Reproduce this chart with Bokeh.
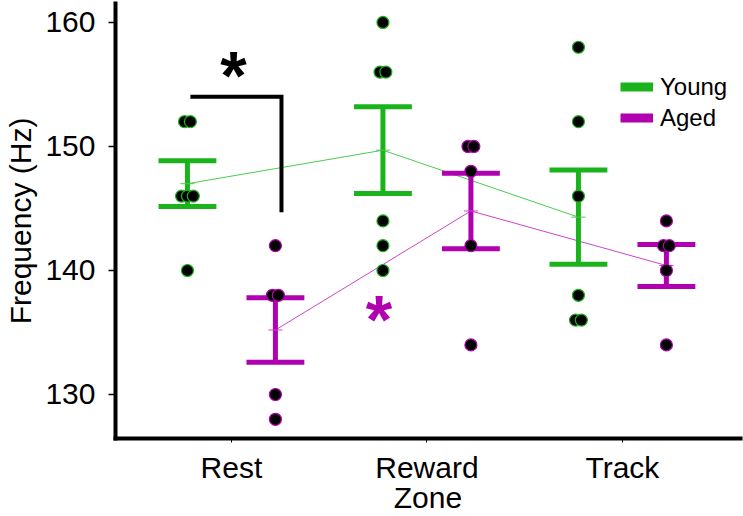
import numpy as np
from bokeh.plotting import figure
from bokeh.models import Range1d, FixedTicker, Legend, LegendItem, Label
from bokeh.embed import file_html
from bokeh.resources import INLINE

# ---- data ----
zones = ["Rest", "Reward", "Track"]
young_values = [
    [152, 152, 146, 146, 146, 140],
    [160, 156, 156, 144, 142, 140],
    [158, 152, 146, 138, 136, 136],
]
aged_values = [
    [142, 138, 138, 130, 128],
    [150, 150, 148, 142, 134],
    [144, 142, 142, 140, 134],
]
young_mean = [147.0, 149.7, 144.3]
young_sem = [1.85, 3.5, 3.8]
aged_mean = [135.2, 144.8, 140.4]
aged_sem = [2.6, 3.05, 1.7]
y_ticks = [130, 140, 150, 160]

# ---- styling ----
GREEN = "#1bb31b"
MAGENTA = "#b000b0"
LINE_GREEN = "#4ccc4c"
LINE_MAGENTA = "#cc44cc"
FONT = "Liberation Sans"
OFF = 0.225      # group offset from category centre
CAP = 0.148      # half cap width
JIT = 0.03       # spread for coincident dots

p = figure(width=743, height=516,
           x_range=Range1d(0.407, 3.604), y_range=Range1d(126.45, 161.53),
           output_backend="svg", toolbar_location=None,
           min_border_left=115, min_border_right=3,
           min_border_top=3, min_border_bottom=77)
p.grid.visible = False
p.outline_line_color = None
p.background_fill_color = "white"

# axes
for ax in (p.xaxis, p.yaxis):
    ax.axis_line_width = 4
    ax.axis_line_color = "black"
    ax.axis_line_cap = "square"
    ax.major_tick_in = 0
    ax.minor_tick_line_color = None
    ax.major_label_text_font = FONT
    ax.major_label_text_font_size = "30px"
    ax.major_label_text_color = "black"
    ax.axis_label_text_font = FONT
    ax.axis_label_text_font_style = "normal"
    ax.axis_label_text_font_size = "30px"
    ax.axis_label_text_color = "black"

p.yaxis.ticker = FixedTicker(ticks=y_ticks)
p.yaxis.major_tick_out = 7
p.yaxis.major_tick_line_width = 1.5
p.yaxis.major_label_standoff = 13
p.yaxis.axis_label = "Frequency (Hz)"
p.yaxis.axis_label_standoff = 5

p.xaxis.ticker = FixedTicker(ticks=[1, 2, 3])
p.xaxis.major_label_overrides = {i + 1: z for i, z in enumerate(zones)}
p.xaxis.major_tick_out = 4
p.xaxis.major_tick_line_width = 1
p.xaxis.major_label_standoff = 8
p.xaxis.axis_label = "Zone"
p.xaxis.axis_label_standoff = -6


def group_x(sign):
    return [i + 1 + sign * OFF for i in range(len(zones))]


def jitter(xc, vals):
    xs = []
    for i, v in enumerate(vals):
        k = vals.count(v)
        j = vals[:i].count(v)
        xs.append(xc + (j - (k - 1) / 2) * JIT)
    return xs


groups = [
    (-1, young_values, young_mean, young_sem, GREEN, LINE_GREEN),
    (+1, aged_values, aged_mean, aged_sem, MAGENTA, LINE_MAGENTA),
]

# mean lines
for sign, vals, mean, sem, col, lcol in groups:
    p.line(group_x(sign), mean, line_width=1, color=lcol)

# error bars
for sign, vals, mean, sem, col, lcol in groups:
    xs = group_x(sign)
    lo = [m - s for m, s in zip(mean, sem)]
    hi = [m + s for m, s in zip(mean, sem)]
    p.segment(x0=xs, y0=lo, x1=xs, y1=hi, line_width=5, color=col)
    p.segment(x0=[x - CAP for x in xs], y0=hi, x1=[x + CAP for x in xs], y1=hi,
              line_width=5, color=col)
    p.segment(x0=[x - CAP for x in xs], y0=lo, x1=[x + CAP for x in xs], y1=lo,
              line_width=5, color=col)
    p.scatter(xs, mean, marker="dash", size=14, line_width=1, color=lcol)

# individual points
for sign, vals, mean, sem, col, lcol in groups:
    xs_all, ys_all = [], []
    for xc, v in zip(group_x(sign), vals):
        xs_all += jitter(xc, v)
        ys_all += v
    p.scatter(xs_all, ys_all, size=12, fill_color="black", line_color=col,
              line_width=1.2)

# significance bracket
p.line([0.79, 1.256, 1.256], [154.0, 154.0, 144.7], line_width=4,
       color="black", line_join="miter")
p.add_layout(Label(x=1.01, y=155.8, text="*", text_font=FONT,
                   text_font_style="bold", text_font_size="68px",
                   text_color="black", text_align="center",
                   text_baseline="alphabetic"))
p.add_layout(Label(x=1.755, y=136.1, text="*", text_font=FONT,
                   text_font_style="bold", text_font_size="68px",
                   text_color=MAGENTA, text_align="center",
                   text_baseline="alphabetic"))

# legend (proxy renderers that draw nothing in the frame)
nan = np.array([np.nan])
ry = p.line(x=nan, y=nan, line_width=9, color=GREEN)
ra = p.line(x=nan, y=nan, line_width=9, color=MAGENTA)
legend = Legend(items=[LegendItem(label="Young", renderers=[ry]),
                       LegendItem(label="Aged", renderers=[ra])],
                location=(505, 305), orientation="vertical",
                glyph_width=33, glyph_height=31, label_height=31,
                label_standoff=7, spacing=0, padding=0, margin=0,
                border_line_alpha=0, background_fill_alpha=0,
                label_text_font=FONT, label_text_font_size="24px",
                label_text_color="black")
p.add_layout(legend)

open("out.html", "w").write(file_html(p, INLINE))
